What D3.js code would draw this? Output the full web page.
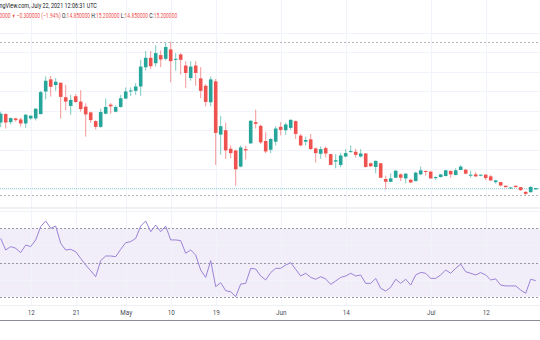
<!DOCTYPE html>
<html><head><meta charset="utf-8">
<script src="https://cdn.jsdelivr.net/npm/d3@7"></script>
<style>
body{margin:0;background:#fff;}
svg{display:block;font-family:Roboto,"Liberation Sans",Arial,sans-serif;}
</style>
</head><body>
<svg id="chart" width="540" height="340"></svg>
<script>
// ---------- DATA ----------
const firstDay = "2021-04-06";
const opens  = [32.0,34.16,32.09,33.04,32.78,31.75,33.04,33.04,34.16,39.95,43.06,41.59,42.19,38.48,36.24,38.74,37.36,36.06,34.59,32.35,30.88,34.25,36.58,34.77,35.98,38.14,39.95,40.12,41.24,46.17,48.59,47.2,49.28,48.33,50.74,48.15,49.45,46.6,43.4,46.6,43.32,41.42,37.19,42.54,28.9,30.02,25.27,24.84,20.69,25.18,26.65,32.09,31.14,27.25,25.01,27.08,30.88,30.02,30.62,32.35,28.64,27.08,27.69,25.35,23.97,25.44,23.89,21.99,21.12,23.28,24.4,24.49,23.28,24.06,21.55,20.6,21.55,17.5,16.8,17.84,18.7,17.67,17.32,16.98,18.7,19.57,19.4,17.75,18.01,18.27,19.57,18.53,19.83,19.91,18.36,18.7,18.36,18.62,18.19,16.72,16.72,15.77,15.16,15.77,15.42,14.21,14.13,14.85];
const highs  = [34.77,34.4,33.3,33.21,33.21,34.16,33.9,35.63,40.12,43.83,43.92,43.4,42.3,41.68,39.09,39.26,40.29,36.93,34.77,32.61,35.54,38.14,37.01,36.41,39.09,40.98,40.98,42.11,48.07,50.31,50.31,51.78,50.49,52.39,52.73,49.79,49.79,47.72,47.72,47.72,46.17,41.85,43.75,43.14,33.64,31.92,26.13,25.0,26.13,26.05,32.6,35.29,31.49,29.5,28.03,31.05,32.09,31.92,32.78,32.5,29.07,28.38,29.07,25.61,25.87,25.87,23.97,23.89,24.15,25.18,26.13,25.27,25.18,24.15,21.73,22.25,21.64,18.36,18.96,19.74,18.96,18.96,17.5,19.4,20.69,19.65,19.57,18.19,18.79,19.83,19.74,20.26,21.04,20.0,19.65,19.31,18.7,18.79,18.53,17.32,16.8,15.85,15.42,15.85,15.5,14.39,15.6,15.2];
const lows   = [30.8,30.45,31.49,32.18,30.97,30.62,32.69,32.52,34.08,37.96,38.65,40.12,33.04,35.11,33.99,37.01,34.77,28.38,31.92,30.19,30.62,34.1,34.25,34.59,35.8,37.96,38.74,39.09,38.83,45.3,45.74,46.34,46.17,47.89,42.28,45.3,44.27,40.81,42.71,41.42,38.22,36.15,36.15,21.12,23.71,22.68,22.85,15.77,20.52,22.5,26.5,30.45,26.48,24.15,24.15,26.13,28.72,28.81,30.1,27.77,25.87,26.13,25.01,21.73,22.68,23.02,21.04,20.26,20.52,23.11,24.32,23.02,23.02,20.43,20.6,18.96,17.75,14.9,16.72,17.75,16.98,16.37,16.46,16.9,18.53,18.36,17.58,17.24,17.93,18.19,17.84,18.45,19.74,18.7,17.84,18.01,18.19,17.24,16.98,16.29,15.68,15.34,15.08,15.34,14.47,13.35,14.04,14.85];
const closes = [34.25,32.0,33.13,32.61,31.75,33.99,33.73,35.54,39.78,42.71,41.16,42.45,38.57,37.36,37.79,37.27,35.46,34.08,32.61,30.88,34.68,35.98,36.15,35.98,38.22,39.95,40.21,41.24,46.34,48.59,46.43,49.79,48.15,51.35,47.72,48.33,48.07,44.7,46.34,44.7,40.12,37.27,43.06,29.33,31.05,24.84,24.15,20.0,25.61,24.84,32.44,31.66,26.91,24.58,27.77,30.45,30.1,31.49,32.69,29.07,26.13,27.51,25.18,24.15,25.18,24.06,21.12,22.33,23.54,24.15,24.66,23.71,24.06,20.6,20.78,22.16,17.84,16.8,17.67,19.65,17.84,18.88,16.63,19.14,19.74,19.4,17.67,18.01,18.7,19.74,18.7,19.74,20.69,18.88,18.62,18.19,18.62,17.75,17.15,17.15,15.85,15.42,15.34,15.42,14.65,13.7,15.5,15.2];
const rsiValues = [64.1,57.3,59.3,58.3,55.8,60.2,59.3,63.2,71.0,74.3,70.0,71.3,61.2,57.3,57.7,56.3,52.4,48.5,45.2,41.7,51.1,53.8,53.8,53.4,57.7,61.6,62.2,64.1,71.3,74.3,68.0,71.9,68.0,71.3,63.2,63.2,62.8,55.4,57.3,54.4,45.6,41.3,51.1,35.9,38.2,33.5,32.9,30.0,37.4,37.8,46.6,46.2,42.1,39.8,44.1,46.6,46.6,48.5,49.9,46.0,42.1,43.7,41.3,40.2,41.7,40.4,37.2,39.2,41.3,42.1,43.7,42.1,42.7,37.8,37.8,40.7,34.9,33.3,35.5,40.2,37.8,40.2,36.8,42.7,44.2,43.7,40.7,40.7,42.7,45.6,43.7,46.6,49.1,44.6,43.7,42.7,44.1,42.7,39.8,40.4,36.8,36.3,36.3,36.3,33.9,32.0,40.2,39.4];
const tickDates  = ["2021-04-12","2021-04-21","2021-05-01","2021-05-10","2021-05-19","2021-06-01","2021-06-14","2021-07-01","2021-07-12"];
const tickLabels = ["12","21","May","10","19","Jun","14","Jul","12"];
const priceGrid  = [15,20,25,30,35,40,45,50,55];
const rsiLevels  = [70,50,30];
const rsiGrid    = [80,60,40];
const lastPrice  = 15.2;
const headerLine1 = "ngView.com, July 22, 2021 12:06:31 UTC";
const headerParts = [
  {t:"0000 ", c:"red"}, {t:"\u25BC ", c:"red"}, {t:"\u22120.300000 (\u22121.94%) ", c:"red"},
  {t:"O:", c:"dark"}, {t:"14.850000 ", c:"red"},
  {t:"H:", c:"dark"}, {t:"15.200000 ", c:"red"},
  {t:"L:", c:"dark"}, {t:"14.850000 ", c:"red"},
  {t:"C:", c:"dark"}, {t:"15.200000", c:"red"}
];

// ---------- CHART ----------
const UP = "#26a69a", DOWN = "#ef5350", GRID = "#f0f3fa";
const svg = d3.select("#chart");
const parse = d3.utcParse("%Y-%m-%d");
const day0 = parse(firstDay);
const dates = opens.map((_, i) => d3.utcDay.offset(day0, i));

const x = d3.scaleUtc()
  .domain([day0, d3.utcDay.offset(day0, 108)])
  .range([0.7, 540.7]);
const y = d3.scaleLinear().domain([20, 50]).range([169.3, 52.3]);
const yr = d3.scaleLinear().domain([30, 70]).range([296.7, 228.3]);

const MAIN_TOP = 0, MAIN_BOT = 207.5, RSI_TOP = 208.5, RSI_BOT = 305;
const tickX = tickDates.map(d => x(parse(d)));

// main pane grid
const g = svg.append("g");
g.selectAll(".hg").data(priceGrid).join("line")
  .attr("x1", 0).attr("x2", 540)
  .attr("y1", d => Math.round(y(d)) + 0.5).attr("y2", d => Math.round(y(d)) + 0.5)
  .attr("stroke", GRID);
g.selectAll(".vg").data(tickX).join("line")
  .attr("x1", d => Math.round(d) + 0.5).attr("x2", d => Math.round(d) + 0.5)
  .attr("y1", MAIN_TOP).attr("y2", MAIN_BOT)
  .attr("stroke", GRID);

// high / low dashed lines
const hi = d3.max(highs), lo = d3.min(lows);
g.selectAll(".hl").data([hi, lo]).join("line")
  .attr("x1", 0).attr("x2", 540)
  .attr("y1", d => Math.round(y(d)) + 0.5).attr("y2", d => Math.round(y(d)) + 0.5)
  .attr("stroke", "#b2b5be").attr("stroke-dasharray", "2,2");

// last price line
g.append("line")
  .attr("x1", 0).attr("x2", 540)
  .attr("y1", Math.round(y(lastPrice)) + 0.5).attr("y2", Math.round(y(lastPrice)) + 0.5)
  .attr("stroke", UP).attr("stroke-opacity", 0.45).attr("stroke-dasharray", "1,1");

// candles
const candles = svg.append("g").selectAll("g").data(dates).join("g");
const col = i => closes[i] >= opens[i] ? UP : DOWN;
candles.append("line")
  .attr("x1", (d) => x(d)).attr("x2", (d) => x(d))
  .attr("y1", (d, i) => y(highs[i])).attr("y2", (d, i) => y(lows[i]))
  .attr("stroke", (d, i) => col(i)).attr("stroke-opacity", 0.6).attr("stroke-width", 1);
const BW = 3.6;
candles.append("rect")
  .attr("x", d => x(d) - BW / 2).attr("width", BW)
  .attr("y", (d, i) => Math.min(y(opens[i]), y(closes[i])))
  .attr("height", (d, i) => Math.max(1, Math.abs(y(opens[i]) - y(closes[i]))))
  .attr("fill", (d, i) => col(i));

// pane separator
svg.append("line").attr("x1", 0).attr("x2", 540).attr("y1", 208).attr("y2", 208)
  .attr("stroke", "#e0e3eb");

// RSI pane
const r = svg.append("g");
r.append("rect").attr("x", 0).attr("width", 540)
  .attr("y", yr(70)).attr("height", yr(30) - yr(70))
  .attr("fill", "rgba(126,87,194,0.1)");
r.selectAll(".rg").data(rsiGrid).join("line")
  .attr("x1", 0).attr("x2", 540)
  .attr("y1", d => Math.round(yr(d)) + 0.5).attr("y2", d => Math.round(yr(d)) + 0.5)
  .attr("stroke", GRID);
r.selectAll(".rv").data(tickX).join("line")
  .attr("x1", d => Math.round(d) + 0.5).attr("x2", d => Math.round(d) + 0.5)
  .attr("y1", RSI_TOP).attr("y2", RSI_BOT)
  .attr("stroke", GRID);
r.selectAll(".rl").data(rsiLevels).join("line")
  .attr("x1", 0).attr("x2", 540)
  .attr("y1", d => Math.round(yr(d)) + 0.5).attr("y2", d => Math.round(yr(d)) + 0.5)
  .attr("stroke", "#9598a1").attr("stroke-dasharray", "2,2");
r.append("path")
  .datum(rsiValues)
  .attr("fill", "none").attr("stroke", "#9c82d6").attr("stroke-width", 1)
  .attr("d", d3.line().x((d, i) => x(dates[i])).y(d => yr(d)));

// time axis
svg.append("line").attr("x1", 0).attr("x2", 540).attr("y1", RSI_BOT + 0.5).attr("y2", RSI_BOT + 0.5)
  .attr("stroke", "#eef0f3");
const axis = d3.axisBottom(x)
  .tickValues(tickDates.map(parse))
  .tickFormat((d, i) => tickLabels[i])
  .tickSize(0).tickPadding(5.5);
const ax = svg.append("g").attr("transform", `translate(0,${RSI_BOT})`).call(axis);
ax.select(".domain").remove();
ax.selectAll("text").attr("font-size", 6.3).attr("fill", "#4a4d58")
  .attr("font-family", "Roboto, 'Liberation Sans', sans-serif");

svg.append("line").attr("x1", 0).attr("x2", 540).attr("y1", 320.5).attr("y2", 320.5)
  .attr("stroke", "#8a8d96");

// header: natural text flow, horizontally scaled to the reference width
function fitText(sel, targetW, x0, baseY) {
  const len = sel.node().getComputedTextLength();
  const s = targetW / len;
  sel.attr("transform", `translate(${x0},${baseY}) scale(${s},1)`);
}
const h1 = svg.append("text").attr("x", 0).attr("y", 0)
  .attr("font-size", 7).attr("fill", "#131722")
  .text(headerLine1);
fitText(h1, 97.5, -0.5, 8.4);
const h2 = svg.append("text").attr("x", 0).attr("y", 0).attr("font-size", 7);
h2.selectAll("tspan").data(headerParts).join("tspan")
  .attr("fill", d => d.c === "red" ? DOWN : "#131722")
  .attr("font-size", d => d.t.startsWith("\u25BC") ? 5.5 : 7)
  .text(d => d.t);
fitText(h2, 178, -0.5, 17.8);
</script>
</body></html>
